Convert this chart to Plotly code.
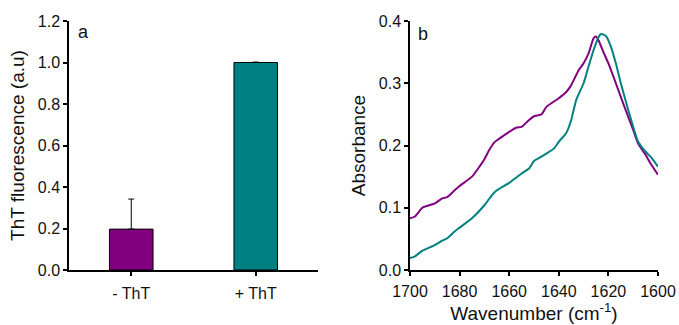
import plotly.graph_objects as go

# Panel a data
categories = ["- ThT", "+ ThT"]
fluor = [0.197, 1.0]
fluor_err = [0.145, 0.002]
bar_colors = ["#800080", "#008080"]

# Panel b data
wn_purple = [1700, 1698, 1695, 1690, 1687, 1685, 1682, 1680, 1675, 1672, 1670, 1668, 1666,
             1664, 1660, 1657, 1655, 1652, 1650, 1647, 1645, 1640, 1637, 1635, 1632, 1630,
             1628, 1626, 1625, 1624, 1622, 1620, 1618, 1615, 1612, 1610, 1608, 1605, 1603, 1600]
abs_purple = [0.083, 0.086, 0.100, 0.107, 0.115, 0.117, 0.128, 0.135, 0.150, 0.166, 0.178,
              0.193, 0.205, 0.211, 0.222, 0.229, 0.230, 0.241, 0.247, 0.250, 0.262, 0.276,
              0.286, 0.297, 0.321, 0.332, 0.348, 0.372, 0.375, 0.369, 0.350, 0.332, 0.311,
              0.278, 0.246, 0.225, 0.203, 0.185, 0.171, 0.153]
wn_teal = [1700, 1698, 1695, 1690, 1687, 1685, 1682, 1680, 1675, 1670, 1667, 1665, 1660,
           1655, 1652, 1650, 1647, 1645, 1642, 1640, 1637, 1635, 1633, 1630, 1628, 1626,
           1624, 1623, 1621, 1619, 1617, 1615, 1612, 1610, 1608, 1605, 1603, 1600]
abs_teal = [0.019, 0.022, 0.031, 0.040, 0.047, 0.051, 0.062, 0.068, 0.083, 0.104, 0.120,
            0.128, 0.140, 0.155, 0.163, 0.175, 0.182, 0.187, 0.195, 0.206, 0.220, 0.241,
            0.273, 0.300, 0.327, 0.353, 0.374, 0.379, 0.376, 0.359, 0.332, 0.300, 0.257,
            0.230, 0.206, 0.190, 0.182, 0.166]

W, H = 679, 325
font_family = "Liberation Sans, Arial, sans-serif"
tick_font = dict(family=font_family, size=16, color="#111")
title_font = dict(family=font_family, size=19, color="#111")

fig = go.Figure()
fig.add_trace(go.Bar(
    x=[0, 1], y=fluor, width=0.35,
    marker=dict(color=bar_colors, line=dict(color="black", width=1)),
    error_y=dict(type="data", array=fluor_err, arrayminus=[0, 0], symmetric=False,
                 color="black", thickness=1, width=3),
    xaxis="x", yaxis="y", showlegend=False,
))
fig.add_trace(go.Scatter(x=wn_purple, y=abs_purple, mode="lines",
                         line=dict(color="#800080", width=2, shape="spline", smoothing=0.5),
                         xaxis="x2", yaxis="y2", showlegend=False))
fig.add_trace(go.Scatter(x=wn_teal, y=abs_teal, mode="lines",
                         line=dict(color="#008080", width=2, shape="spline", smoothing=0.5),
                         xaxis="x2", yaxis="y2", showlegend=False))

ydom = [1 - 270 / H, 1 - 21 / H]
axis_common = dict(showline=True, linecolor="black", linewidth=1.5, ticks="outside",
                   ticklen=4, tickcolor="black", tickwidth=1.5, showgrid=False, zeroline=False,
                   tickfont=tick_font, automargin=False)

fig.update_layout(
    width=W, height=H, margin=dict(l=0, r=0, t=0, b=0, autoexpand=False),
    paper_bgcolor="white", plot_bgcolor="white",
    xaxis=dict(domain=[69 / W, 318 / W], range=[-0.5, 1.5], tickvals=[0, 1], ticktext=categories,
               anchor="y", ticklabelstandoff=4, **axis_common),
    yaxis=dict(domain=ydom, range=[0, 1.2], dtick=0.2, tickformat=".1f", anchor="x",
               title=dict(text="ThT fluorescence (a.u)", font=title_font, standoff=8), **axis_common),
    xaxis2=dict(domain=[410 / W, 658 / W], range=[1700, 1600], dtick=20, anchor="y2",
                ticklabelstandoff=2,
                title=dict(text="Wavenumber (cm<sup>-1</sup>)", font=title_font, standoff=4), **axis_common),
    yaxis2=dict(domain=ydom, range=[0, 0.4], dtick=0.1, tickformat=".1f", anchor="x2",
                title=dict(text="Absorbance", font=title_font, standoff=8), **axis_common),
    annotations=[
        dict(text="a", x=76 / W, y=1 - 32 / H, xref="paper", yref="paper", xanchor="left",
             yanchor="middle", showarrow=False, font=dict(family=font_family, size=18, color="#111")),
        dict(text="b", x=416 / W, y=1 - 34 / H, xref="paper", yref="paper", xanchor="left",
             yanchor="middle", showarrow=False, font=dict(family=font_family, size=18, color="#111")),
    ],
)

fig.write_html("out.html")
